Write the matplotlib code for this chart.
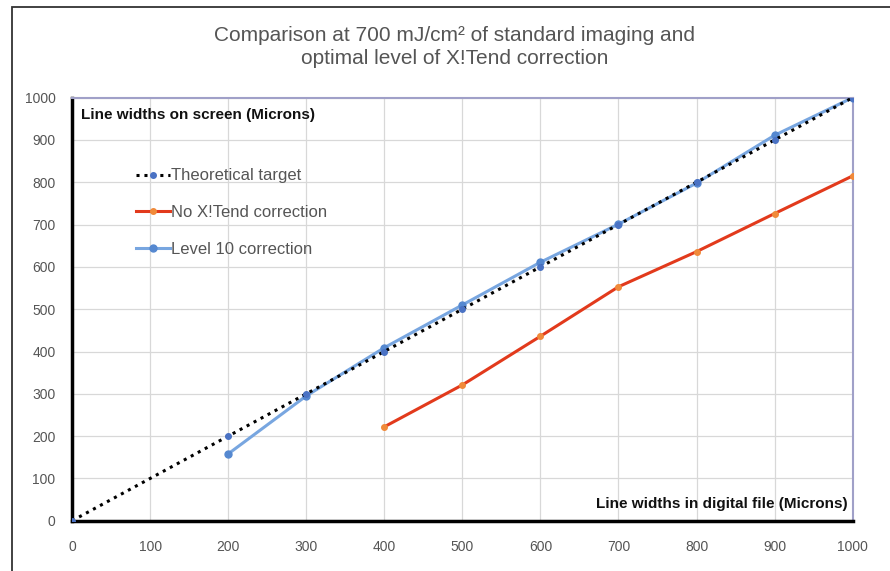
import matplotlib
matplotlib.use("Agg")
import matplotlib.pyplot as plt
from matplotlib.patches import Rectangle

plt.rcParams["font.family"] = ["Liberation Sans", "DejaVu Sans"]

# data
target_x = [0, 200, 300, 400, 500, 600, 700, 800, 900, 1000]
target_y = [0, 200, 300, 400, 500, 600, 700, 800, 900, 1000]

nocorr_x = [400, 500, 600, 700, 800, 900, 1000]
nocorr_y = [222, 321, 436, 553, 636, 726, 815]

level10_x = [200, 300, 400, 500, 600, 700, 800, 900, 1000]
level10_y = [158, 295, 409, 510, 611, 701, 798, 911, 1000]

ticks = list(range(0, 1001, 100))

fig = plt.figure(figsize=(8.9, 5.71), dpi=100)
ax = fig.add_axes([0.081, 0.088, 0.877, 0.741])

ax.plot(target_x, target_y, linestyle=(0, (1, 1.6)), color="black", lw=2.2,
        marker="o", markersize=4, markerfacecolor="#4a72c4", markeredgecolor="#4a72c4",
        label="Theoretical target", zorder=4)
ax.plot(nocorr_x, nocorr_y, color="#e23a1c", lw=2.2,
        marker="o", markersize=4, markerfacecolor="#f08a3a", markeredgecolor="#f08a3a",
        label="No X!Tend correction", zorder=3)
ax.plot(level10_x, level10_y, color="#78a6e0", lw=2.2,
        marker="o", markersize=5, markerfacecolor="#5588d0", markeredgecolor="#5588d0",
        label="Level 10 correction", zorder=3)

ax.set_xlim(0, 1000)
ax.set_ylim(0, 1000)
ax.set_xticks(ticks)
ax.set_yticks(ticks)
ax.grid(True, color="#d8d8d8", lw=0.9)
ax.set_axisbelow(True)
ax.tick_params(axis="x", length=0, labelsize=10, labelcolor="#555555", pad=14)
ax.tick_params(axis="y", length=0, labelsize=10, labelcolor="#555555", pad=12)

for s in ["top", "right"]:
    ax.spines[s].set_color("#a0a0c8")
    ax.spines[s].set_linewidth(1.5)
for s in ["left", "bottom"]:
    ax.spines[s].set_color("black")
    ax.spines[s].set_linewidth(2.5)

ax.text(0.012, 0.975, "Line widths on screen (Microns)", transform=ax.transAxes,
        fontsize=11, ha="left", va="top", color="#111111", fontweight="semibold")
ax.text(0.993, 0.022, "Line widths in digital file (Microns)", transform=ax.transAxes,
        fontsize=11, ha="right", va="bottom", color="#111111", fontweight="semibold")

leg = ax.legend(loc="upper left", bbox_to_anchor=(0.063, 0.868), frameon=False,
                fontsize=12, handlelength=2.0, handletextpad=0.1, labelspacing=1.3)
for t in leg.get_texts():
    t.set_color("#555555")

fig.text(0.511, 0.955, "Comparison at 700 mJ/cm² of standard imaging and\noptimal level of X!Tend correction",
         ha="center", va="top", fontsize=15, color="#555555", linespacing=1.3)

fig.patches.append(Rectangle((0.0135, -0.01), 0.99, 0.997, transform=fig.transFigure,
                             fill=False, edgecolor="#333333", lw=1.3))

fig.savefig("out.png", dpi=100)
